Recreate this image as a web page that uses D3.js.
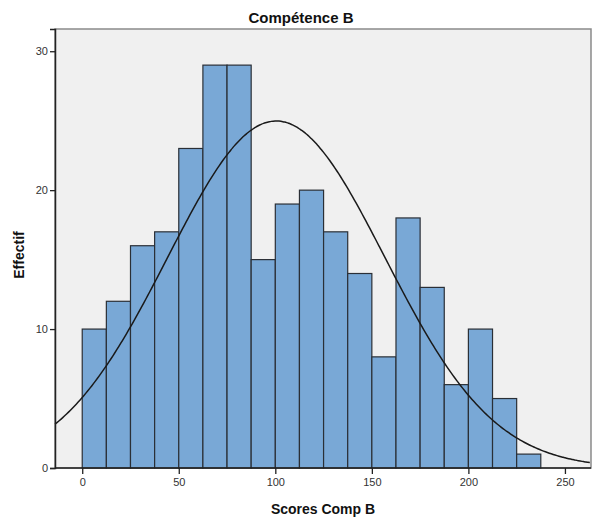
<!DOCTYPE html>
<html><head><meta charset="utf-8">
<script src="https://cdn.jsdelivr.net/npm/d3@7"></script>
<style>body{margin:0;background:#fff}svg{display:block}</style>
</head><body><div id="chart"></div>
<script>
const binStarts = [0,12.5,25,37.5,50,62.5,75,87.5,100,112.5,125,137.5,150,162.5,175,187.5,200,212.5,225];
const binWidth = 12.5;
const counts = [10,12,16,17,23,29,29,15,19,20,17,14,8,18,13,6,10,5,1];
const xTicks = [0,50,100,150,200,250];
const yTicks = [0,10,20,30];
const curveMean = 100.5;
const curveSD = 56.3;
const curveN = 282;

const W = 593, H = 520;
const L = 55, R = 591, T = 29, B = 468;
const svg = d3.select("#chart").append("svg").attr("width", W).attr("height", H);
const x = d3.scaleLinear().domain([-14.1, 263.5]).range([L, R]);
const y = d3.scaleLinear().domain([0, 31.6]).range([B, T]);

svg.append("rect").attr("x", L).attr("y", T).attr("width", R - L).attr("height", B - T)
  .attr("fill", "#f0f0f0").attr("stroke", "#8a8a8a").attr("stroke-width", 1.5);

svg.append("g").selectAll("rect").data(counts).join("rect")
  .attr("x", (d, i) => x(binStarts[i]))
  .attr("y", d => y(d))
  .attr("width", (d, i) => x(binStarts[i] + binWidth) - x(binStarts[i]))
  .attr("height", d => y(0) - y(d))
  .attr("fill", "#79a8d6").attr("stroke", "#2a2f36").attr("stroke-width", 1.2);

const pts = d3.range(-14.1, 263.6, 1).map(v => [v, curveN * binWidth / (curveSD * Math.sqrt(2 * Math.PI)) * Math.exp(-0.5 * Math.pow((v - curveMean) / curveSD, 2))]);
svg.append("path").datum(pts)
  .attr("d", d3.line().x(d => x(d[0])).y(d => y(d[1])).curve(d3.curveBasis))
  .attr("fill", "none").attr("stroke", "#1a1a1a").attr("stroke-width", 1.5);

const xa = svg.append("g").attr("transform", `translate(0,${B})`)
  .call(d3.axisBottom(x).tickValues(xTicks).tickSize(6).tickPadding(4));
const ya = svg.append("g").attr("transform", `translate(${L},0)`)
  .call(d3.axisLeft(y).tickValues(yTicks).tickSize(5).tickPadding(2));
[xa, ya].forEach(a => {
  a.select(".domain").attr("stroke", "#222").attr("stroke-width", 1.5);
  a.selectAll(".tick line").attr("stroke", "#222").attr("stroke-width", 1.3);
  a.selectAll(".tick text").attr("fill", "#333").style("font-family", "Arial, 'Liberation Sans', sans-serif").style("font-size", "11px");
});
xa.select(".domain").remove();
svg.append("line").attr("x1", L).attr("x2", R).attr("y1", B).attr("y2", B).attr("stroke", "#222").attr("stroke-width", 1.5);

svg.append("text").attr("x", 301).attr("y", 23).attr("text-anchor", "middle")
  .style("font-family", "Arial, 'Liberation Sans', sans-serif").style("font-size", "15px").style("font-weight", "bold")
  .attr("fill", "#111").text("Compétence B");
svg.append("text").attr("x", 323).attr("y", 514).attr("text-anchor", "middle")
  .style("font-family", "Arial, 'Liberation Sans', sans-serif").style("font-size", "14px").style("font-weight", "bold")
  .attr("fill", "#111").text("Scores Comp B");
svg.append("text").attr("transform", "translate(24,255) rotate(-90)").attr("text-anchor", "middle")
  .style("font-family", "Arial, 'Liberation Sans', sans-serif").style("font-size", "14px").style("font-weight", "bold")
  .attr("fill", "#111").text("Effectif");
</script></body></html>
